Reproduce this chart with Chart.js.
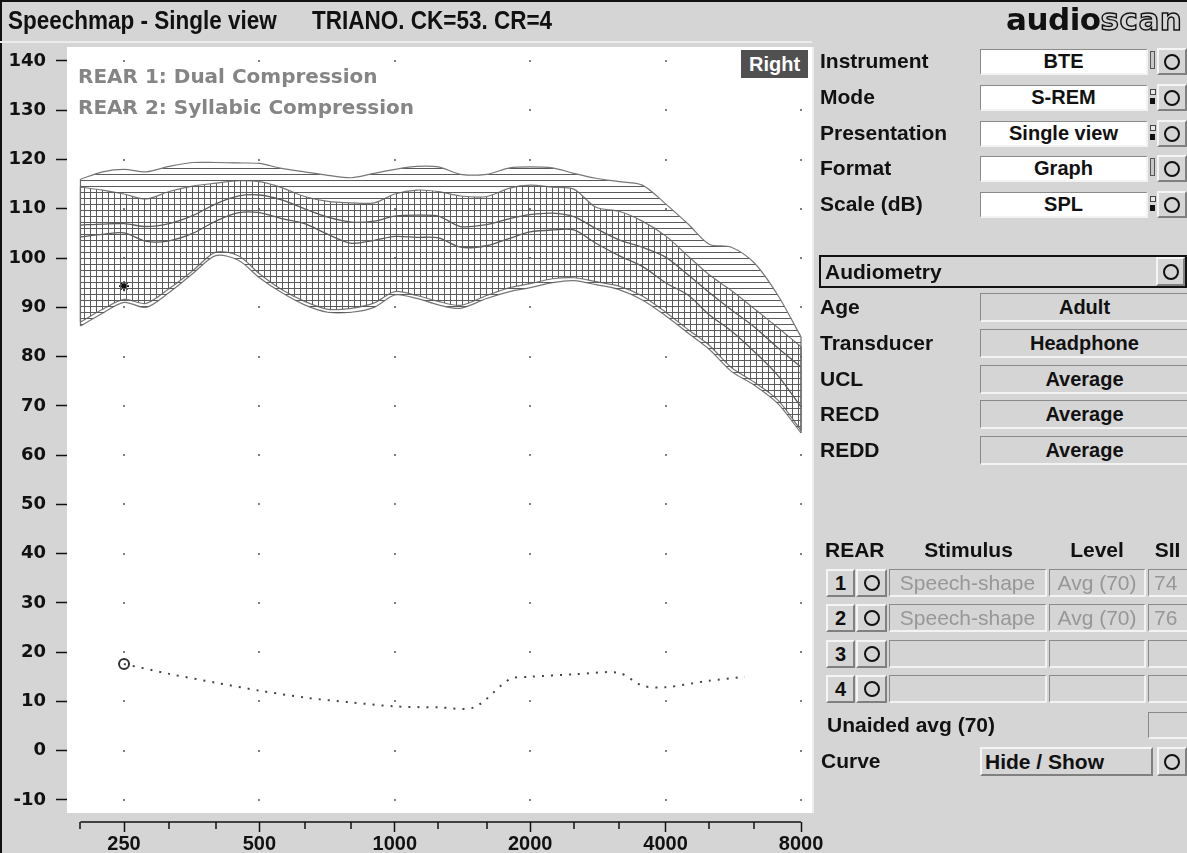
<!DOCTYPE html>
<html>
<head>
<meta charset="utf-8">
<script src="https://cdn.jsdelivr.net/npm/chart.js@4.4.1/dist/chart.umd.min.js"></script>
<style>
  html, body { margin: 0; padding: 0; }
  body { width: 1187px; height: 853px; background: #d5d5d5; position: relative; overflow: hidden;
         font-family: 'Liberation Sans', Arial, sans-serif; color: #111; }
  #chart { position: absolute; left: 0; top: 0; }
  .abs { position: absolute; }
  .lbl { position: absolute; font-weight: bold; font-size: 21px; transform: translateY(-50%); white-space: nowrap; }
  .ttl { position: absolute; font-weight: bold; font-size: 25px; white-space: nowrap; top: 6px;
         transform: scaleX(0.9); transform-origin: left top; }
  .box { position: absolute; box-sizing: border-box; background: #fff; font-weight: bold; font-size: 20px;
         text-align: center; border-top: 1px solid #8a8a8a; border-left: 1px solid #8a8a8a;
         border-bottom: 2px solid #f3f3f3; border-right: 2px solid #f3f3f3; white-space: nowrap; }
  .gbox { background: #d5d5d5; }
  .btn { position: absolute; box-sizing: border-box; background: #d5d5d5; border-top: 2px solid #f5f5f5;
         border-left: 2px solid #f5f5f5; border-bottom: 2px solid #808080; border-right: 2px solid #808080;
         font-weight: bold; font-size: 20px; text-align: center; }
  .circ { position: absolute; left: 50%; top: 50%; width: 12px; height: 12px; margin: -8px 0 0 -8px;
          border: 2px solid #111; border-radius: 50%; }
  .dim { color: #979797; font-weight: normal; font-size: 21px; }
  .ind1 { position: absolute; width: 3px; height: 16px; border: 1px solid #555; background: #c8c8c8; }
  .ind2a { position: absolute; width: 4px; height: 4px; border: 1px solid #444; background: #e8e8e8; }
  .ind2b { position: absolute; width: 5px; height: 6px; background: #111; }
</style>
</head>
<body>
<canvas id="chart" width="845" height="853"></canvas>

<div class="abs" style="left:0;top:0;width:1187px;height:2px;background:#111"></div>
<div class="abs" style="left:0;top:0;width:2px;height:853px;background:#111"></div>
<div class="abs" style="left:0;top:41px;width:812px;height:2px;background:#ececec"></div>
<div class="ttl" style="left:8px">Speechmap - Single view</div>
<div class="ttl" style="left:312px">TRIANO. CK=53. CR=4</div>
<div class="abs" style="left:1006px;top:1px;font:bold 31px 'DejaVu Sans',sans-serif;white-space:nowrap;letter-spacing:-0.5px">audio<span style="color:transparent;-webkit-text-stroke:1.4px #111;letter-spacing:0.5px">scan</span></div>

<div class="abs" style="left:78px;top:64px;font:bold 20px 'DejaVu Sans',sans-serif;color:#858585;white-space:nowrap">REAR 1: Dual Compression</div>
<div class="abs" style="left:78px;top:95px;font:bold 20px 'DejaVu Sans',sans-serif;color:#858585;white-space:nowrap">REAR 2: Syllabic Compression</div>
<div class="abs" style="left:741px;top:50px;width:67px;height:28px;background:#505050;color:#fff;font-weight:bold;font-size:20px;text-align:center;line-height:28px">Right</div>

<div id="panel"></div>

<script>
// frequencies (Hz) of the speech band curves
const freqs = [200, 224, 250, 280, 315, 355, 400, 450, 500, 560, 630, 710, 800, 900, 1000, 1120, 1250, 1400, 1600, 1800, 2000, 2240, 2500, 2800, 3150, 3550, 4000, 4500, 5000, 5600, 6300, 7100, 8000];

// REAR 1: Dual Compression (dB SPL)
const rear1Upper = [116.0, 117.5, 118.0, 117.5, 118.6, 119.4, 119.4, 119.3, 119.2, 118.2, 117.5, 116.8, 116.3, 117.2, 118.0, 118.6, 118.5, 117.0, 117.0, 118.3, 118.5, 118.3, 117.2, 116.2, 115.5, 114.8, 111.0, 106.8, 102.8, 102.2, 99.0, 92.5, 84.0];
const rear1Mean = [106.7, 106.9, 107.0, 106.4, 107.0, 108.6, 111.0, 112.6, 112.8, 111.8, 110.0, 108.3, 107.3, 107.5, 108.5, 108.7, 108.5, 106.4, 106.8, 108.0, 108.8, 109.1, 108.4, 106.0, 103.7, 102.2, 100.2, 96.5, 93.0, 89.5, 86.0, 81.8, 77.9];
const rear1Lower = [86.2, 88.8, 91.0, 90.0, 93.0, 96.8, 100.5, 99.5, 96.0, 93.0, 90.5, 89.0, 89.0, 90.0, 92.5, 91.8, 90.5, 89.8, 91.8, 93.2, 94.0, 95.0, 95.4, 94.6, 93.6, 91.5, 88.3, 84.7, 81.5, 77.0, 74.2, 70.5, 64.5];

// REAR 2: Syllabic Compression (dB SPL)
const rear2Upper = [114.4, 113.8, 113.0, 112.0, 113.5, 114.6, 115.2, 115.7, 115.5, 114.3, 112.5, 111.5, 111.2, 111.2, 113.0, 113.8, 113.5, 112.6, 112.5, 114.2, 114.8, 114.4, 114.0, 110.3, 109.5, 107.5, 104.5, 100.3, 96.6, 93.4, 89.7, 85.9, 82.0];
const rear2Mean = [104.3, 104.8, 105.1, 103.4, 103.5, 105.0, 107.5, 109.2, 109.2, 108.0, 107.0, 104.8, 103.0, 103.6, 104.4, 104.2, 104.1, 102.2, 102.5, 104.0, 105.3, 105.7, 105.7, 103.0, 100.5, 98.3, 95.0, 92.4, 88.5, 85.2, 81.0, 76.2, 69.8];
const rear2Lower = [87.0, 89.6, 91.6, 90.8, 93.8, 97.4, 101.2, 100.4, 96.8, 93.6, 91.2, 89.6, 89.8, 90.9, 93.2, 92.4, 91.2, 90.4, 92.4, 94.0, 94.8, 95.8, 96.0, 95.2, 94.3, 92.3, 89.0, 85.4, 82.3, 77.8, 74.8, 71.2, 65.0];

// dotted threshold curve
const thrFreqs = [250, 315, 400, 500, 630, 800, 1000, 1250, 1500, 1800, 2000, 2500, 3150, 3550, 4000, 5000, 6000];
const thrLevels = [17.6, 15.6, 13.8, 12.2, 10.8, 9.8, 9.0, 8.8, 8.8, 14.5, 15.0, 15.5, 15.8, 13.2, 12.9, 14.2, 15.0];

// asterisk marker
const starFreqs = [250];
const starLevels = [94.3];

// axes
const yTicks = [-10, 0, 10, 20, 30, 40, 50, 60, 70, 80, 90, 100, 110, 120, 130, 140];
const xTicks = [200, 250, 315, 400, 500, 630, 800, 1000, 1250, 1600, 2000, 2500, 3150, 4000, 5000, 6300, 8000];
const xLabels = [250, 500, 1000, 2000, 4000, 8000];

const pts = (xs, ys) => xs.map((f, i) => ({ x: f, y: ys[i] }));

function hatch(dir) {
  const c = document.createElement('canvas');
  c.width = 6; c.height = 6;
  const g = c.getContext('2d');
  g.fillStyle = '#5a5a5a';
  if (dir === 'h') g.fillRect(0, 0, 6, 1); else g.fillRect(0, 0, 1, 6);
  return g.createPattern(c, 'repeat');
}

const plotBg = {
  id: 'plotBg',
  beforeDraw(chart) {
    const { ctx, chartArea: a } = chart;
    ctx.save();
    ctx.fillStyle = '#fff';
    ctx.fillRect(a.left, a.top, a.right - a.left, a.bottom - 9 - a.top);
    ctx.fillStyle = '#eeeeee';
    ctx.fillRect(a.right, a.top, 2, a.bottom - 9 - a.top);
    ctx.restore();
  }
};

const gridDots = {
  id: 'gridDots',
  beforeDatasetsDraw(chart) {
    const { ctx, scales } = chart;
    ctx.save();
    ctx.fillStyle = '#808080';
    xLabels.forEach(f => {
      const x = scales.x.getPixelForValue(f);
      yTicks.forEach(v => {
        const y = scales.y.getPixelForValue(v);
        ctx.fillRect(Math.round(x) - 1, Math.round(y) - 1, 2, 2);
      });
    });
    ctx.restore();
  }
};

const axisLine = {
  id: 'axisLine',
  afterDraw(chart) {
    const { ctx, scales, chartArea: a } = chart;
    const sx = scales.x;
    ctx.save();
    ctx.strokeStyle = '#111';
    ctx.lineWidth = 1.5;
    ctx.beginPath();
    ctx.moveTo(sx.getPixelForValue(xTicks[0]), a.bottom);
    ctx.lineTo(sx.getPixelForValue(xTicks[xTicks.length - 1]), a.bottom);
    xTicks.filter(f => !xLabels.includes(f)).forEach(f => {
      const x = Math.round(sx.getPixelForValue(f));
      ctx.moveTo(x, a.bottom);
      ctx.lineTo(x, a.bottom + 7);
    });
    ctx.stroke();
    ctx.restore();
  }
};

// vertical end edges of the two bands
const bandEdges = {
  id: 'bandEdges',
  afterDatasetsDraw(chart) {
    const { ctx, scales } = chart;
    ctx.save();
    ctx.strokeStyle = '#666';
    ctx.lineWidth = 1.2;
    [[rear1Upper, rear1Lower], [rear2Upper, rear2Lower]].forEach(([u, l]) => {
      [0, freqs.length - 1].forEach(i => {
        const x = scales.x.getPixelForValue(freqs[i]);
        ctx.beginPath();
        ctx.moveTo(x, scales.y.getPixelForValue(u[i]));
        ctx.lineTo(x, scales.y.getPixelForValue(l[i]));
        ctx.stroke();
      });
    });
    ctx.restore();
  }
};

const band = (data, color, w, extra) => Object.assign({
  data: data, borderColor: color, borderWidth: w, pointRadius: 0, tension: 0.3, fill: false
}, extra || {});

new Chart(document.getElementById('chart'), {
  type: 'line',
  data: {
    datasets: [
      band(pts(freqs, rear1Upper), '#777', 1.2, { fill: 1, backgroundColor: hatch('h') }),
      band(pts(freqs, rear1Lower), '#777', 1.2),
      band(pts(freqs, rear2Upper), '#777', 1.2, { fill: 3, backgroundColor: hatch('v') }),
      band(pts(freqs, rear2Lower), '#777', 1.2),
      band(pts(freqs, rear1Mean), '#5a5a5a', 1.3),
      band(pts(freqs, rear2Mean), '#5a5a5a', 1.3),
      {
        data: pts(thrFreqs, thrLevels),
        borderColor: '#444', borderWidth: 2, borderDash: [2, 7], tension: 0.3, fill: false,
        pointRadius: c => c.dataIndex === 0 ? 5 : 0,
        pointBackgroundColor: 'rgba(0,0,0,0)', pointBorderColor: '#333', pointBorderWidth: 2
      },
      {
        data: pts(starFreqs, starLevels), showLine: false, pointStyle: 'star',
        pointRadius: 5, pointBorderColor: '#111', pointBorderWidth: 1.6
      }
    ]
  },
  options: {
    responsive: false,
    animation: false,
    devicePixelRatio: 1,
    layout: { padding: { top: 47, right: 33, left: 0, bottom: 0 } },
    plugins: { legend: { display: false }, tooltip: { enabled: false }, filler: { propagate: false } },
    scales: {
      x: {
        type: 'logarithmic', position: 'bottom', min: 186.7, max: 8463,
        afterFit(s) { s.height = 31; },
        afterBuildTicks(s) { s.ticks = xTicks.map(v => ({ value: v })); },
        border: { display: false },
        grid: {
          drawOnChartArea: false, tickLength: 10, tickWidth: 1.5,
          tickColor: c => (c.tick && xLabels.includes(c.tick.value)) ? '#111' : 'rgba(0,0,0,0)'
        },
        ticks: {
          autoSkip: false, maxRotation: 0, padding: 0, color: '#111',
          font: { family: "'Liberation Sans Narrow', 'Liberation Sans', sans-serif", size: 20, weight: 'bold' },
          callback: v => xLabels.includes(v) ? String(v) : ''
        }
      },
      y: {
        min: -14.47, max: 142.84,
        afterFit(s) { s.width = 67; },
        afterBuildTicks(s) { s.ticks = yTicks.map(v => ({ value: v })); },
        border: { display: false },
        grid: { drawOnChartArea: false, tickLength: 11, tickWidth: 1.5, tickColor: '#111' },
        ticks: {
          padding: 10, color: '#111',
          font: { family: "'DejaVu Sans', sans-serif", size: 18, weight: 'bold' }
        }
      }
    }
  },
  plugins: [plotBg, gridDots, bandEdges, axisLine]
});

// ---- right hand control panel ----
const topRows = [['Instrument', 'BTE', 1], ['Mode', 'S-REM', 2], ['Presentation', 'Single view', 2], ['Format', 'Graph', 1], ['Scale (dB)', 'SPL', 2]];
const topY = [61, 97, 133, 168, 204];
const audioRows = [['Age', 'Adult'], ['Transducer', 'Headphone'], ['UCL', 'Average'], ['RECD', 'Average'], ['REDD', 'Average']];
const audioY = [307, 343, 379, 414, 450];
const rearRows = [['1', 'Speech-shape', 'Avg (70)', '74'], ['2', 'Speech-shape', 'Avg (70)', '76'], ['3', '', '', ''], ['4', '', '', '']];
const rearY = [583, 618, 654, 689];

let html = '';
const circBtn = (l, t, w, h) => `<div class="btn" style="left:${l}px;top:${t}px;width:${w}px;height:${h}px"><div class="circ"></div></div>`;

topRows.forEach((r, i) => {
  const y = topY[i];
  html += `<div class="lbl" style="left:820px;top:${y}px">${r[0]}</div>`;
  html += `<div class="box" style="left:980px;top:${y - 12}px;width:168px;height:26px;line-height:23px">${r[1]}</div>`;
  if (r[2] === 1) {
    html += `<div class="ind1" style="left:1150px;top:${y - 10}px"></div>`;
  } else {
    html += `<div class="ind2a" style="left:1150px;top:${y - 8}px"></div><div class="ind2b" style="left:1150px;top:${y + 1}px"></div>`;
  }
  html += circBtn(1157, y - 13, 30, 27);
});

html += `<div class="abs" style="left:819px;top:255px;width:368px;height:33px;box-sizing:border-box;border:2px solid #111"></div>`;
html += `<div class="lbl" style="left:825px;top:272px">Audiometry</div>`;
html += circBtn(1156, 257, 29, 29);

audioRows.forEach((r, i) => {
  const y = audioY[i];
  html += `<div class="lbl" style="left:820px;top:${y}px">${r[0]}</div>`;
  html += `<div class="box gbox" style="left:980px;top:${y - 14}px;width:210px;height:29px;line-height:26px">${r[1]}</div>`;
});

html += `<div class="lbl" style="left:825px;top:550px">REAR</div>`;
html += `<div class="lbl" style="left:890px;top:550px;width:157px;text-align:center">Stimulus</div>`;
html += `<div class="lbl" style="left:1049px;top:550px;width:96px;text-align:center">Level</div>`;
html += `<div class="lbl" style="left:1148px;top:550px;width:39px;text-align:center">SII</div>`;

rearRows.forEach((r, i) => {
  const y = rearY[i];
  html += `<div class="btn" style="left:826px;top:${y - 14}px;width:29px;height:28px;line-height:24px">${r[0]}</div>`;
  html += circBtn(856, y - 14, 31, 28);
  html += `<div class="box gbox dim" style="left:889px;top:${y - 14}px;width:158px;height:28px;line-height:25px">${r[1]}</div>`;
  html += `<div class="box gbox dim" style="left:1049px;top:${y - 14}px;width:97px;height:28px;line-height:25px">${r[2]}</div>`;
  html += `<div class="box gbox dim" style="left:1148px;top:${y - 14}px;width:42px;height:28px;line-height:25px;text-align:left;padding-left:5px">${r[3]}</div>`;
});

html += `<div class="lbl" style="left:827px;top:725px">Unaided avg (70)</div>`;
html += `<div class="box gbox" style="left:1148px;top:712px;width:42px;height:27px"></div>`;
html += `<div class="lbl" style="left:821px;top:761px">Curve</div>`;
html += `<div class="btn" style="left:980px;top:747px;width:173px;height:29px;line-height:25px;text-align:left;padding-left:3px;font-size:21px">Hide / Show</div>`;
html += circBtn(1157, 747, 30, 29);

document.getElementById('panel').innerHTML = html;
</script>
</body>
</html>
